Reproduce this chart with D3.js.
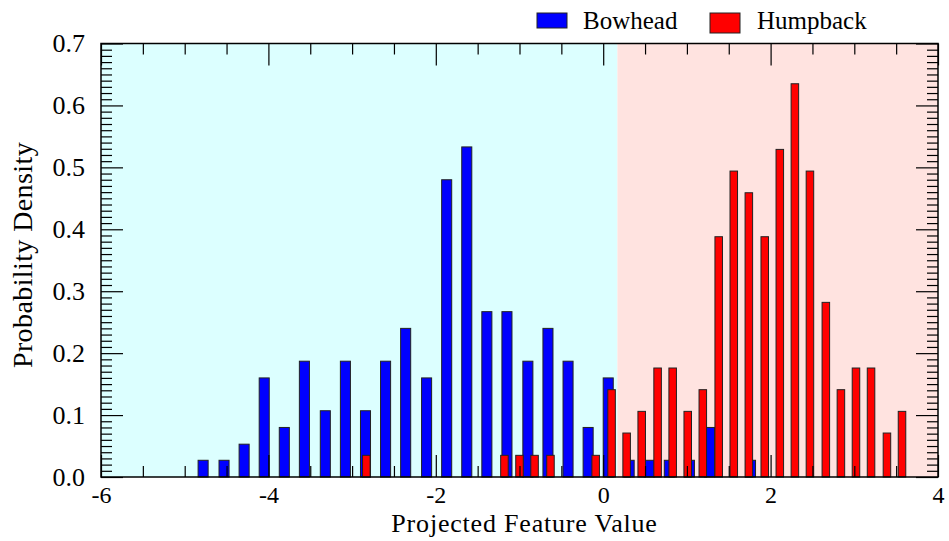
<!DOCTYPE html>
<html>
<head>
<meta charset="utf-8">
<script src="https://cdn.jsdelivr.net/npm/d3@7"></script>
<style>
  body { margin: 0; background: #fff; }
  svg { display: block; font-family: "Liberation Serif", "Times New Roman", serif; }
</style>
</head>
<body>
<svg></svg>
<script>
// Histogram bin centres and densities
const blueX = [-4.78, -4.53, -4.29, -4.05, -3.81, -3.57, -3.32, -3.08, -2.84, -2.60,
               -2.36, -2.11, -1.87, -1.63, -1.39, -1.15, -0.90, -0.66, -0.42, -0.18,
               0.06, 0.31, 0.55, 0.79, 1.03, 1.27, 1.76];
const blueY = [0.027, 0.027, 0.053, 0.16, 0.08, 0.187, 0.107, 0.187, 0.107, 0.187,
               0.24, 0.16, 0.48, 0.533, 0.267, 0.267, 0.187, 0.24, 0.187, 0.08,
               0.16, 0.027, 0.027, 0.027, 0.027, 0.08, 0.027];

const redX = [-2.83, -1.18, -1.00, -0.82, -0.63, -0.09, 0.10, 0.28, 0.46, 0.65,
              0.83, 1.01, 1.19, 1.38, 1.56, 1.74, 1.93, 2.11, 2.29, 2.47,
              2.66, 2.84, 3.02, 3.20, 3.39, 3.57];
const redY = [0.035, 0.035, 0.035, 0.035, 0.035, 0.035, 0.141, 0.071, 0.106, 0.176,
              0.176, 0.106, 0.141, 0.388, 0.494, 0.459, 0.388, 0.529, 0.635, 0.494,
              0.282, 0.141, 0.176, 0.176, 0.071, 0.106];

const seriesNames = ["Bowhead", "Humpback"];
const threshold = 0.17; // where the shaded regions meet

const xMajor = [-6, -4, -2, 0, 2, 4];
const yMajor = [0.0, 0.1, 0.2, 0.3, 0.4, 0.5, 0.6, 0.7];

const FONT = '"Liberation Serif", "Times New Roman", serif';

// Dimensions
const W = 949, H = 541;
const margin = { top: 43.5, right: 11, bottom: 64, left: 101 },
      width = W - margin.left - margin.right,
      height = H - margin.top - margin.bottom;

const root = d3.select("svg").attr("width", W).attr("height", H);
const svg = root.append("g")
    .attr("transform", `translate(${margin.left},${margin.top})`);

const x = d3.scaleLinear().domain([-6, 4]).range([0, width]);
const y = d3.scaleLinear().domain([0, 0.7]).range([height, 0]);

// shaded decision regions
svg.append("rect")
    .attr("x", x(-6)).attr("y", 0)
    .attr("width", x(threshold) - x(-6)).attr("height", height)
    .attr("fill", "#dcffff");
svg.append("rect")
    .attr("x", x(threshold)).attr("y", 0)
    .attr("width", x(4) - x(threshold)).attr("height", height)
    .attr("fill", "#ffe3e0");

// bars are half as wide as their bin
function drawBars(xs, ys, color) {
    const bin = d3.min(d3.pairs(xs), p => p[1] - p[0]);
    const half = bin * 0.25;
    svg.append("g").selectAll("rect")
        .data(xs.map((v, i) => ({ x: v, y: ys[i] })))
        .join("rect")
        .attr("x", d => x(d.x - half))
        .attr("y", d => y(d.y))
        .attr("width", d => x(d.x + half) - x(d.x - half))
        .attr("height", d => y(0) - y(d.y))
        .attr("fill", color)
        .attr("stroke", "#222")
        .attr("stroke-width", 1);
}
drawBars(blueX, blueY, "#0000ff");
drawBars(redX, redY, "#ff0000");

// axes: ticks point inward on all four sides
const xMinor = d3.range(-6, 4.01, 0.5).filter(v => !xMajor.includes(v));
const yMinor = d3.range(0, 70.5, 1).map(v => v / 100).filter(v => Math.round(v * 100) % 10 !== 0);

function styleAxis(g) {
    g.attr("font-family", FONT);
    g.select(".domain").remove();
    g.selectAll(".tick line").attr("stroke", "#000").attr("stroke-width", 1.2);
    g.selectAll("text").attr("fill", "#000").style("font-size", "24px");
}

// bottom
svg.append("g").attr("transform", `translate(0,${height})`)
    .call(d3.axisBottom(x).tickValues(xMajor).tickSizeInner(-22).tickSizeOuter(0)
        .tickPadding(9).tickFormat(d => String(d)))
    .call(styleAxis);
svg.append("g").attr("transform", `translate(0,${height})`)
    .call(d3.axisBottom(x).tickValues(xMinor).tickSizeInner(-11).tickSizeOuter(0).tickFormat(""))
    .call(styleAxis);
// top
svg.append("g")
    .call(d3.axisTop(x).tickValues(xMajor).tickSizeInner(-22).tickSizeOuter(0).tickFormat(""))
    .call(styleAxis);
svg.append("g")
    .call(d3.axisTop(x).tickValues(xMinor).tickSizeInner(-11).tickSizeOuter(0).tickFormat(""))
    .call(styleAxis);
// left
svg.append("g")
    .call(d3.axisLeft(y).tickValues(yMajor).tickSizeInner(-22).tickSizeOuter(0)
        .tickPadding(16).tickFormat(d => d.toFixed(1)))
    .call(styleAxis)
    .call(g => g.selectAll("text").style("font-size", "26px"));
svg.append("g")
    .call(d3.axisLeft(y).tickValues(yMinor).tickSizeInner(-11).tickSizeOuter(0).tickFormat(""))
    .call(styleAxis);
// right
svg.append("g").attr("transform", `translate(${width},0)`)
    .call(d3.axisRight(y).tickValues(yMajor).tickSizeInner(-22).tickSizeOuter(0).tickFormat(""))
    .call(styleAxis);
svg.append("g").attr("transform", `translate(${width},0)`)
    .call(d3.axisRight(y).tickValues(yMinor).tickSizeInner(-11).tickSizeOuter(0).tickFormat(""))
    .call(styleAxis);

// frame
svg.append("rect")
    .attr("width", width).attr("height", height)
    .attr("fill", "none").attr("stroke", "#000").attr("stroke-width", 1.5);

// axis titles
svg.append("text")
    .attr("x", width / 2 + 5)
    .attr("y", height + 55)
    .attr("text-anchor", "middle")
    .style("font-size", "26px")
    .style("letter-spacing", "0.8px")
    .text("Projected Feature Value");

root.append("text")
    .attr("transform", `translate(32,255) rotate(-90)`)
    .attr("text-anchor", "middle")
    .style("font-size", "28px")
    .style("letter-spacing", "0.4px")
    .text("Probability Density");

// legend
const legend = root.append("g");
const legendItems = [
    { name: seriesNames[0], color: "#0000ff", bx: 537, bh: 15, tx: 583 },
    { name: seriesNames[1], color: "#ff0000", bx: 710, bh: 20, tx: 757 }
];
legendItems.forEach(d => {
    legend.append("rect")
        .attr("x", d.bx).attr("y", 13)
        .attr("width", 30).attr("height", d.bh)
        .attr("fill", d.color).attr("stroke", "#222").attr("stroke-width", 1);
    legend.append("text")
        .attr("x", d.tx).attr("y", 29)
        .style("font-size", "25px")
        .text(d.name);
});
</script>
</body>
</html>
